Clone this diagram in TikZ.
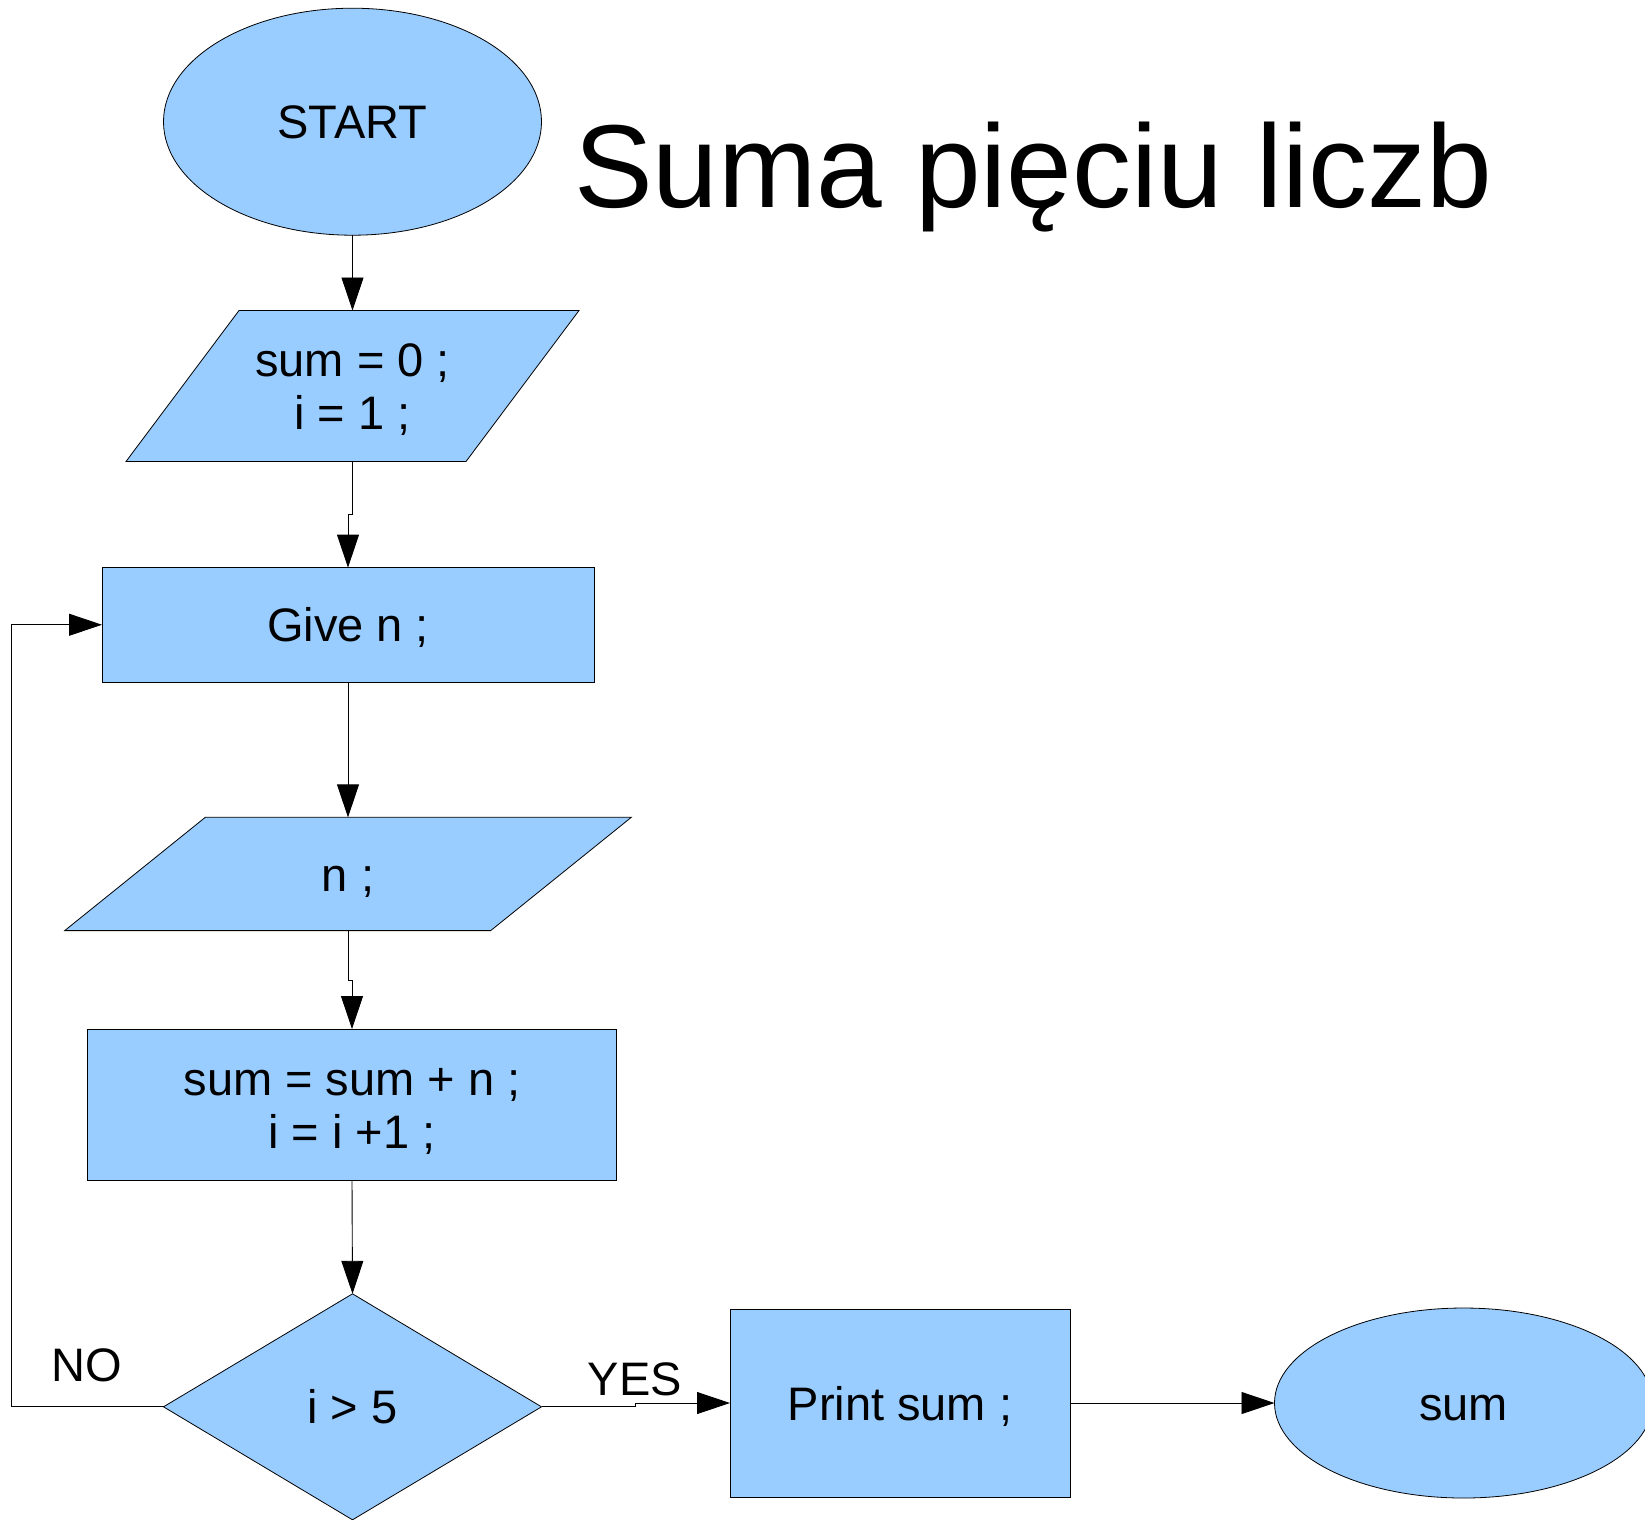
\documentclass[tikz,border=0pt]{standalone}
\usepackage{fontspec}
\setmainfont{Liberation Sans}
\usetikzlibrary{shapes.geometric,arrows.meta}
\definecolor{boxblue}{HTML}{99CCFF}
\begin{document}
\begin{tikzpicture}[x=1pt,y=-1pt,
  txt/.style={inner sep=0pt,outer sep=0pt,font=\fontsize{47}{53}\selectfont,align=center,text height=34pt,text depth=0pt},
  twoline/.style={text height=87pt},
  shapebox/.style={txt,draw=black,fill=boxblue,line width=0.8pt},
  oval/.style={shapebox,ellipse},
  rect/.style={shapebox,rectangle},
  decision/.style={shapebox,diamond},
  outline/.style={draw=black,fill=boxblue,line width=0.8pt},
  conn/.style={draw=black,line width=0.9pt,-{Triangle[length=33pt,width=22pt]}}]
\useasboundingbox (0,0) rectangle (1645,1519);

% START
\node[oval,minimum width=378pt,minimum height=227pt] (start) at (352.5,121.7) {START};

% title
\node[inner sep=0pt,anchor=base west,font=\fontsize{118}{130}\selectfont] (title) at (574,207) {Suma pięciu liczb};

% parallelogram 1
\draw[outline] (239,310.5) -- (579,310.5) -- (466,461.5) -- (126,461.5) -- cycle;
\node[txt,twoline,minimum width=340pt,minimum height=151pt] (p1) at (352.5,386) {sum = 0 ;\\ i = 1 ;};

% Give n
\node[rect,minimum width=492pt,minimum height=114.3pt] (give) at (348,624.75) {Give n ;};

% parallelogram 2
\draw[outline] (205.3,817.3) -- (631.3,817.3) -- (490.7,930.6) -- (64.7,930.6) -- cycle;
\node[txt,minimum width=426pt,minimum height=113.3pt] (p2) at (348,874) {n ;};

% sum box
\node[rect,twoline,minimum width=529pt,minimum height=151pt] (sumbox) at (352,1104.5) {sum = sum + n ;\\ i = i +1 ;};

% decision
\node[decision,minimum width=378pt,minimum height=226pt] (dec) at (352.5,1406.8) {i > 5};

% print
\node[rect,minimum width=340pt,minimum height=188pt] (print) at (900,1403) {Print sum ;};

% end ellipse
\node[oval,minimum width=378pt,minimum height=190pt] (sumend) at (1463.5,1403) {sum};

% labels
\node[txt] (no) at (87,1364.5) {NO};
\node[txt] (yes) at (635,1378) {YES};

% connectors
\draw[conn] (start.south) -- (p1.north);
\draw[conn] (p1.south) -- ++(0,52.5) -| (give.north);
\draw[conn] (give.south) -- (p2.north);
\draw[conn] (p2.south) -- ++(0,50) -| (sumbox.north);
\draw[conn] (sumbox.south) -- (dec.north);
\draw[conn] (dec.west) -- ++(-152,0) |- (give.west);
\draw[conn] (dec.east) -- ++(94,0) |- (print.west);
\draw[conn] (print.east) -- (sumend.west);
\end{tikzpicture}
\end{document}
